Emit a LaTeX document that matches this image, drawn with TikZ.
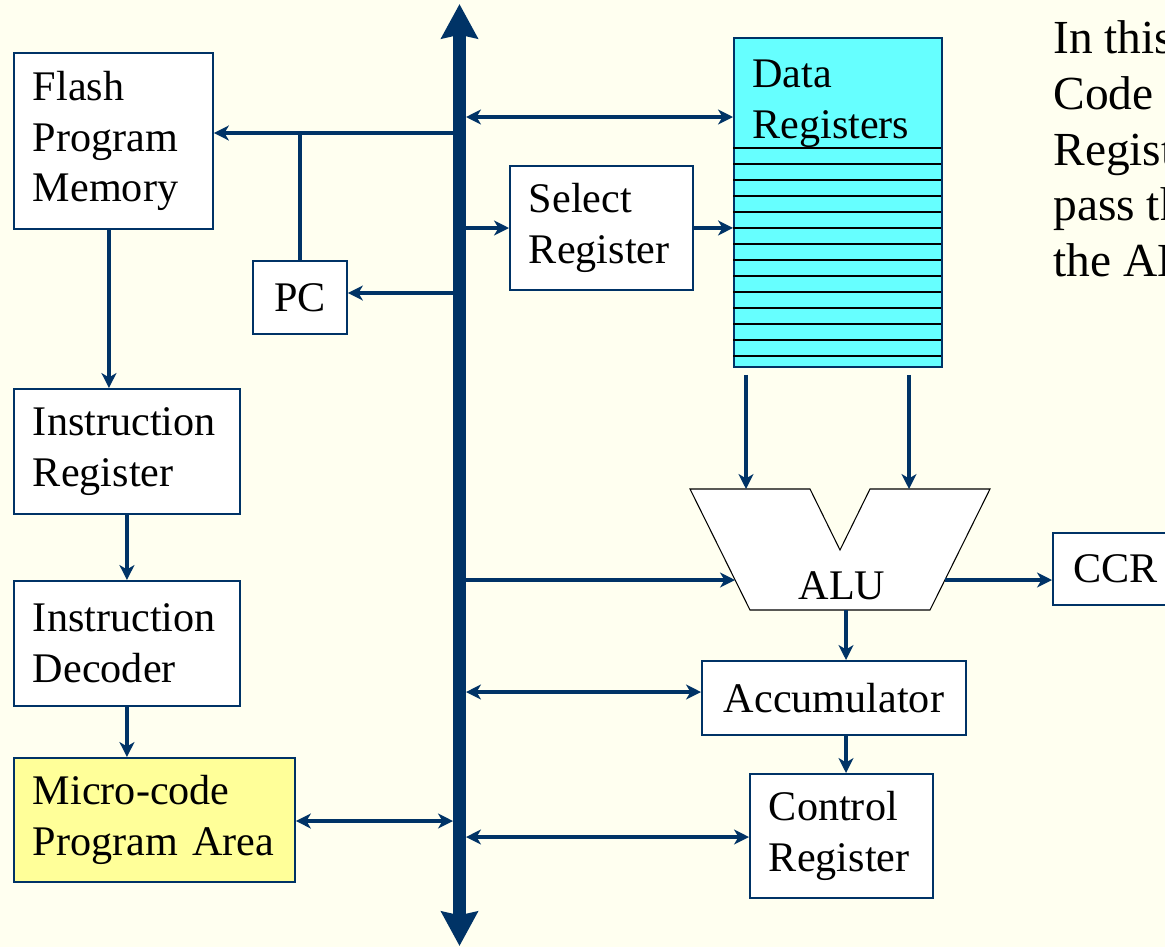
\documentclass[tikz,border=0pt]{standalone}
\usepackage{fontspec}
\setmainfont{Liberation Serif}
\usetikzlibrary{arrows.meta}
\definecolor{navy}{HTML}{003366}
\definecolor{bgivory}{HTML}{FFFFF0}
\definecolor{regcyan}{HTML}{66FFFF}
\definecolor{microyellow}{HTML}{FFFF99}

\begin{document}
\begin{tikzpicture}[x=0.02cm,y=-0.02cm,>={Stealth[length=8.5pt,width=8.5pt,inset=2.5pt]},
      box/.style={draw=navy,line width=1.1pt,fill=white,anchor=north west,inner xsep=0.38cm,inner ysep=0pt,align=left,font=\fontsize{24}{29}\selectfont},
      cbox/.style={box,align=center,inner xsep=0pt},
      link/.style={draw=navy,line width=2.2pt},
      busline/.style={draw=navy,line width=7.4pt,{Stealth[length=19.5pt,width=20.5pt,inset=2pt]}-{Stealth[length=19.5pt,width=20.5pt,inset=2pt]}},
      regline/.style={draw=black,line width=0.75pt},
      aluedge/.style={draw=black,line width=0.6pt,fill=white}]
    \clip (0,0) rectangle (1165,947);
    \fill[bgivory] (0,0) rectangle (1165,947);
    % left column
    \node[box,text width=3.22cm,minimum height=3.52cm] (flash) at (13,52) {Flash\\Program\\Memory};
    \node[cbox,minimum width=1.88cm,minimum height=1.46cm] (pc) at (252,260) {PC};
    \node[box,text width=3.76cm,minimum height=2.5cm] (ir) at (13,388) {Instruction\\Register};
    \node[box,text width=3.76cm,minimum height=2.5cm] (id) at (13,580) {Instruction\\Decoder};
    \node[box,fill=microyellow,text width=4.86cm,minimum height=2.48cm] (micro) at (13,757) {Micro-code\\Program~Area};
    % register file
    \node[box,text width=2.9cm,minimum height=2.48cm] (sel) at (509,165) {Select\\Register};
    \node[box,fill=regcyan,minimum width=4.16cm,minimum height=6.58cm] (datareg) at (733,37) {};
    \foreach \y in {148,164,...,356}
      \draw[regline] (733,\y) -- (941,\y);
    \node[anchor=north west,inner sep=0pt,align=left,font=\fontsize{24}{29}\selectfont] (dtitle) at (752,60) {Data\\Registers};
    % ALU
    \draw[aluedge] (690,489) -- (810,489) -- (840,550) -- (870,489) -- (990,489) -- (930,610) -- (750,610) -- cycle;
    \node[anchor=base,font=\fontsize{24}{29}\selectfont] (alu) at (842,599) {ALU};
    \coordinate (alu-w) at (735,580);
    \coordinate (alu-e) at (945,580);
    \coordinate (alu-s) at (846,610);
    \coordinate (alu-a) at (746,489);
    \coordinate (alu-b) at (909,489);
    \node[cbox,minimum width=2.5cm,minimum height=1.44cm] (ccr) at (1052,532) {CCR};
    \node[cbox,minimum width=5.28cm,minimum height=1.48cm] (acc) at (701,660) {Accumulator};
    \node[box,text width=2.9cm,minimum height=2.48cm] (ctrl) at (749,773) {Control\\Register};
    % bus taps
    \coordinate (bus-n) at (459.5,4);
    \coordinate (bus-s) at (459.5,946);
    \coordinate (t-flash) at (453,133);
    \coordinate (t-pc) at (453,293);
    \coordinate (t-data) at (466,117);
    \coordinate (t-sel) at (466,228);
    \coordinate (t-alu) at (466,580);
    \coordinate (t-acc) at (466,692);
    \coordinate (t-micro) at (453,821);
    \coordinate (t-ctrl) at (466,837);
    \draw[link,->] (t-flash) -- (t-flash -| flash.east);
    \draw[link] (t-flash -| pc.north) -- (pc.north);
    \draw[link,->] (t-pc) -- (t-pc -| pc.east);
    \draw[link,<->] (t-data) -- (t-data -| datareg.west);
    \draw[link,->] (t-sel) -- (t-sel -| sel.west);
    \draw[link,->] (sel.east) -- (sel.east -| datareg.west);
    \draw[link,->] ([yshift=-0.14cm]datareg.south -| alu-a) -- (alu-a);
    \draw[link,->] ([yshift=-0.14cm]datareg.south -| alu-b) -- (alu-b);
    \draw[link,->] (t-alu) -- (alu-w);
    \draw[link,->] (alu-e) -- (alu-e -| ccr.west);
    \draw[link,->] (alu-s) -- (alu-s |- acc.north);
    \draw[link,->] (alu-s |- acc.south) -- (alu-s |- ctrl.north);
    \draw[link,<->] (t-acc) -- (t-acc -| acc.west);
    \draw[link,<->] (t-ctrl) -- (t-ctrl -| ctrl.west);
    \draw[link,<->] (micro.east |- t-micro) -- (t-micro);
    \draw[link,->] ([xshift=-0.09cm]flash.south) -- ([xshift=-0.09cm]flash.south |- ir.north);
    \draw[link,->] (ir.south) -- (ir.south |- id.north);
    \draw[link,->] (id.south) -- (id.south |- micro.north);
    \draw[busline] (bus-n) -- (bus-s);
    % side note
    \node[anchor=north west,inner sep=0pt,align=left,font=\fontsize{27}{31.8}\selectfont] (note) at (1053,20) {In this\\Code\\Regist\\pass th\\the AL};
  \end{tikzpicture}
\end{document}
